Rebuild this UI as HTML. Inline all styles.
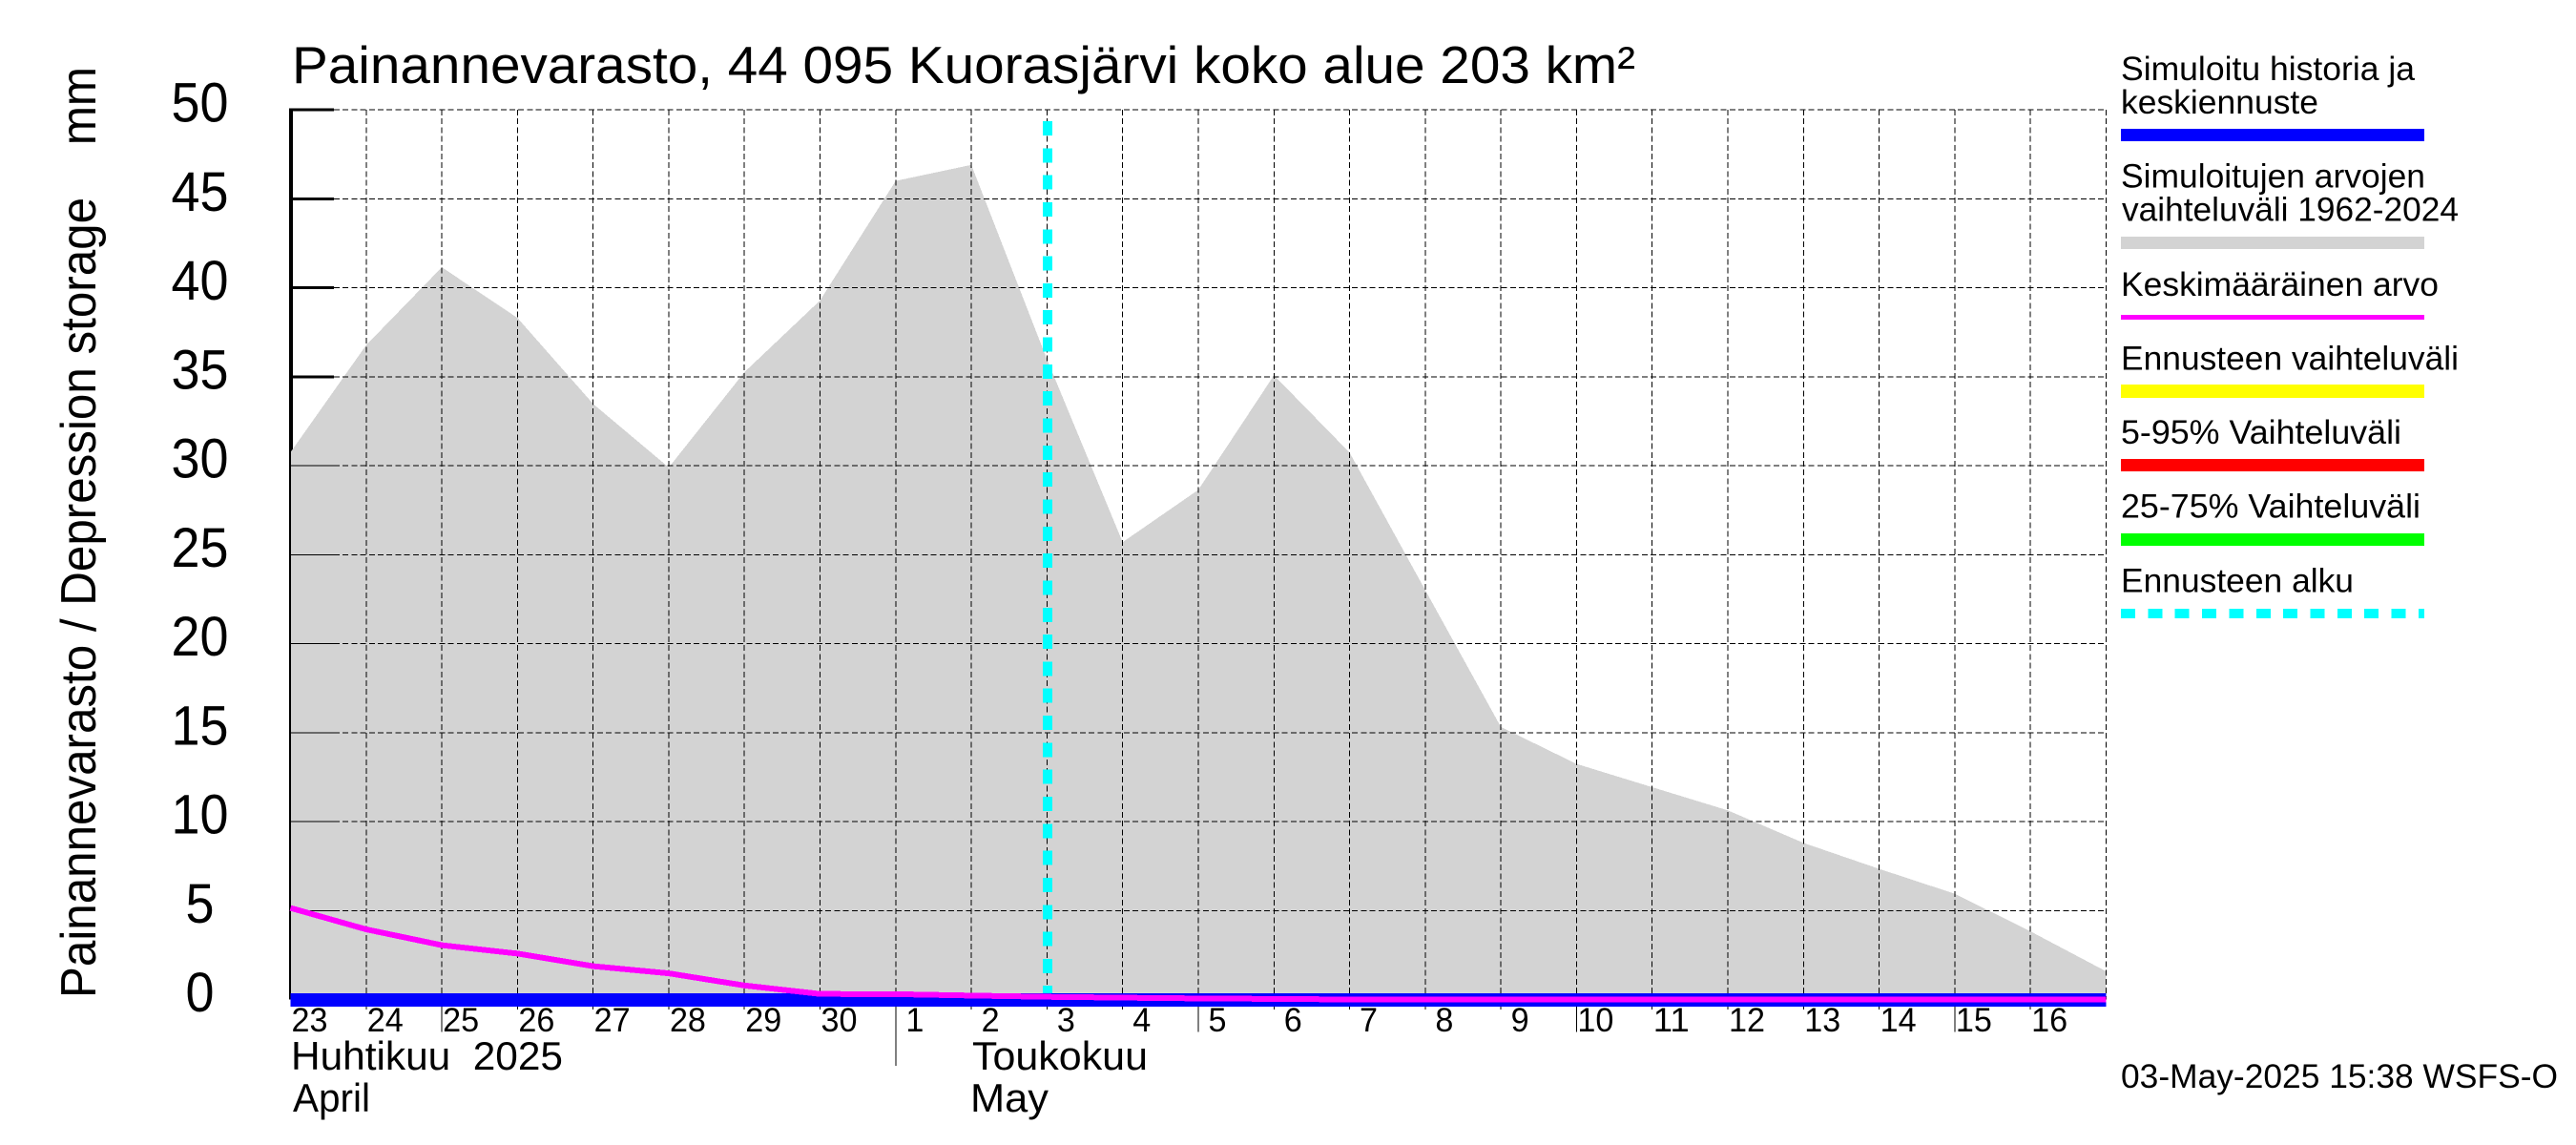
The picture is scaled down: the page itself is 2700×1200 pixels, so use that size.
<!DOCTYPE html>
<html lang="fi">
<head>
<meta charset="utf-8">
<title>Painannevarasto, 44 095 Kuorasjärvi</title>
<style>
html,body{margin:0;padding:0;background:#fff;}
svg{display:block;}
text{font-family:"Liberation Sans",sans-serif;fill:#000;}
</style>
</head>
<body>
<svg id="chart" xmlns="http://www.w3.org/2000/svg" width="2700" height="1200" viewBox="0 0 2700 1200">
  <rect x="0" y="0" width="2700" height="1200" fill="#fff"/>
  <g id="layer-axis" shape-rendering="crispEdges"></g>
  <g id="layer-range" shape-rendering="crispEdges"></g>
  <g id="layer-grid" shape-rendering="crispEdges"></g>
  <g id="layer-forecast" shape-rendering="crispEdges"></g>
  <g id="layer-series" shape-rendering="crispEdges"></g>
  <g id="layer-labels"></g>

  <text x="306" y="87" font-size="55" textLength="1408" lengthAdjust="spacingAndGlyphs">Painannevarasto, 44 095 Kuorasjärvi koko alue 203 km²</text>
  <text transform="translate(100,1046) rotate(-90)" font-size="52" textLength="976" lengthAdjust="spacingAndGlyphs" xml:space="preserve">Painannevarasto / Depression storage    mm</text>

  <text x="305" y="1121" font-size="42" textLength="285" lengthAdjust="spacingAndGlyphs" xml:space="preserve">Huhtikuu  2025</text>
  <text x="307" y="1165" font-size="42" textLength="81" lengthAdjust="spacingAndGlyphs">April</text>
  <text x="1019" y="1121" font-size="42" textLength="184" lengthAdjust="spacingAndGlyphs">Toukokuu</text>
  <text x="1017" y="1165" font-size="42" textLength="82" lengthAdjust="spacingAndGlyphs">May</text>

  <g>
    <g>
      <text x="2223" y="84" font-size="35" textLength="308" lengthAdjust="spacingAndGlyphs">Simuloitu historia ja</text>
      <text x="2223" y="119" font-size="35" textLength="207" lengthAdjust="spacingAndGlyphs">keskiennuste</text>
      <rect x="2223" y="135" width="318" height="13" fill="#0000ff"/>
    </g>
    <g>
      <text x="2223" y="196.7" font-size="35" textLength="319" lengthAdjust="spacingAndGlyphs">Simuloitujen arvojen</text>
      <text x="2224" y="231.7" font-size="35" textLength="353" lengthAdjust="spacingAndGlyphs">vaihteluväli 1962-2024</text>
      <rect x="2223" y="248" width="318" height="13" fill="#d3d3d3"/>
    </g>
    <g>
      <text x="2223" y="310" font-size="35" textLength="333" lengthAdjust="spacingAndGlyphs">Keskimääräinen arvo</text>
      <rect x="2223" y="330" width="318" height="5" fill="#ff00ff"/>
    </g>
    <g>
      <text x="2223" y="387.3" font-size="35" textLength="354" lengthAdjust="spacingAndGlyphs">Ennusteen vaihteluväli</text>
      <rect x="2223" y="403" width="318" height="14" fill="#ffff00"/>
    </g>
    <g>
      <text x="2223" y="465" font-size="35" textLength="294" lengthAdjust="spacingAndGlyphs">5-95% Vaihteluväli</text>
      <rect x="2223" y="481" width="318" height="13" fill="#ff0000"/>
    </g>
    <g>
      <text x="2223" y="542.7" font-size="35" textLength="314" lengthAdjust="spacingAndGlyphs">25-75% Vaihteluväli</text>
      <rect x="2223" y="559" width="318" height="13" fill="#00ff00"/>
    </g>
    <g>
      <text x="2223" y="620.7" font-size="35" textLength="244" lengthAdjust="spacingAndGlyphs">Ennusteen alku</text>
      <line x1="2223" y1="643" x2="2541" y2="643" stroke="#00ffff" stroke-width="10" stroke-dasharray="15 13.35" shape-rendering="crispEdges"/>
    </g>
  </g>

  <text x="2223" y="1140" font-size="35" textLength="458" lengthAdjust="spacingAndGlyphs">03-May-2025 15:38 WSFS-O</text>
</svg>

<script>
// Chart data
const dayLabels = ["23","24","25","26","27","28","29","30","1","2","3","4","5","6","7","8","9","10","11","12","13","14","15","16",""];
const rangeMax = [30.75,36.77,41.15,38.3,33.47,29.9,35.25,39.28,46.0,46.9,35.97,25.7,28.64,35.08,30.73,23.0,15.32,13.24,11.93,10.63,8.8,7.34,5.94,3.83,1.58];
const rangeMin = [0,0,0,0,0,0,0,0,0,0,0,0,0,0,0,0,0,0,0,0,0,0,0,0,0];
const meanValues = [5.14,3.94,3.05,2.58,1.87,1.47,0.79,0.31,0.3,0.22,0.15,0.1,0.06,0.03,0,0,0,0,0,0,0,0,0,0,0];
const historyValues = [-0.02,-0.02,-0.02,-0.02,-0.02,-0.02,-0.02,-0.02,-0.02,-0.02,-0.02,-0.02,-0.02,-0.02,-0.02,-0.02,-0.02,-0.02,-0.02,-0.02,-0.02,-0.02,-0.02,-0.02,-0.02];
const yTickValues = [0,5,10,15,20,25,30,35,40,45,50];
const longTickLabels = ["25","5","10","15"];
const monthStartLabel = "1";
const forecastStartLabel = "3";

// Axis functions
function xScale(i){ return 304.5 + i * 79.29; }
function yScale(v){ return 1047.5 - v * 18.65; }

const SVG_NS = "http://www.w3.org/2000/svg";
function make(tag, parentId, props){
  const el = document.createElementNS(SVG_NS, tag);
  for (const k in props) el.setAttribute(k, props[k]);
  document.getElementById(parentId).appendChild(el);
  return el;
}
const plotLeft = xScale(0);
const plotRight = xScale(dayLabels.length - 1);
const plotTop = yScale(50);
const plotBottom = yScale(0);
const tickEnd = 350;
const gridDash = "6 3.2";

// Heavy y axis and ticks (partly hidden by the range polygon)
const axisLine = make("line", "layer-axis", {x1:305, y1:plotTop-1.7, x2:305, y2:plotBottom, stroke:"#000", "stroke-width":4});


yTickValues.forEach(function(v){
  const t = make("line", "layer-axis", {x1:305, y1:yScale(v), x2:tickEnd, y2:yScale(v), stroke:"#000", "stroke-width":3});
  
  
});

// Simulated range polygon
const upperPts = rangeMax.map(function(v,i){ return xScale(i).toFixed(1) + "," + yScale(v).toFixed(1); });
const lowerPts = rangeMin.map(function(v,i){ return xScale(i).toFixed(1) + "," + yScale(v).toFixed(1); }).reverse();
const rangePoly = make("polygon", "layer-range", {points: upperPts.concat(lowerPts).join(" "), fill:"#d3d3d3"});



// Grid
yTickValues.forEach(function(v){
  const solid = make("line", "layer-grid", {x1:plotLeft, y1:yScale(v), x2:tickEnd, y2:yScale(v), stroke:"#000", "stroke-width":1});
  
  
  const g = make("line", "layer-grid", {x1:tickEnd, y1:yScale(v), x2:plotRight, y2:yScale(v), stroke:"#000", "stroke-width":1, "stroke-dasharray":gridDash});
  
  
});
dayLabels.forEach(function(label,i){
  const g = make("line", "layer-grid", {x1:xScale(i), y1:plotTop, x2:xScale(i), y2:plotBottom, stroke:"#000", "stroke-width":1, "stroke-dasharray": i === 0 ? "none" : gridDash});
  
  
  if (i === 0 || i === dayLabels.length - 1) return;
  let end = 1058;
  if (longTickLabels.indexOf(label) >= 0) end = 1081.7;
  if (label === monthStartLabel) end = 1117;
  const t = make("line", "layer-grid", {x1:xScale(i), y1:plotBottom, x2:xScale(i), y2:end, stroke:"#000", "stroke-width":1});
  
  
});

// Forecast start marker
const forecastIndex = dayLabels.indexOf(forecastStartLabel);
const forecastLine = make("line", "layer-forecast", {x1:xScale(forecastIndex)+0.6, y1:127, x2:xScale(forecastIndex)+0.6, y2:plotBottom, stroke:"#00ffff", "stroke-width":10, "stroke-dasharray":"15 13.32"});



// Series lines
const historyLine = make("polyline", "layer-series", {points: historyValues.map(function(v,i){ return xScale(i).toFixed(1) + "," + yScale(v).toFixed(1); }).join(" "), fill:"none", stroke:"#0000ff", "stroke-width":14});


const meanLine = make("polyline", "layer-series", {points: meanValues.map(function(v,i){ return xScale(i).toFixed(1) + "," + yScale(v).toFixed(1); }).join(" "), fill:"none", stroke:"#ff00ff", "stroke-width":6});



// Tick labels
yTickValues.forEach(function(v){
  const s = String(v);
  const t = make("text", "layer-labels", {x:209.5, y:yScale(v)+12.5, "font-size":58, "text-anchor":"middle", textLength: s.length === 1 ? 30 : 60, lengthAdjust:"spacingAndGlyphs"});
  t.textContent = s;
  
  
});
dayLabels.forEach(function(label,i){
  if (!label) return;
  const t = make("text", "layer-labels", {x:xScale(i)+20, y:1081, "font-size":35, "text-anchor":"middle", textLength: label.length === 1 ? 19 : 38, lengthAdjust:"spacingAndGlyphs"});
  t.textContent = label;
  
  
});
</script>
</body>
</html>
